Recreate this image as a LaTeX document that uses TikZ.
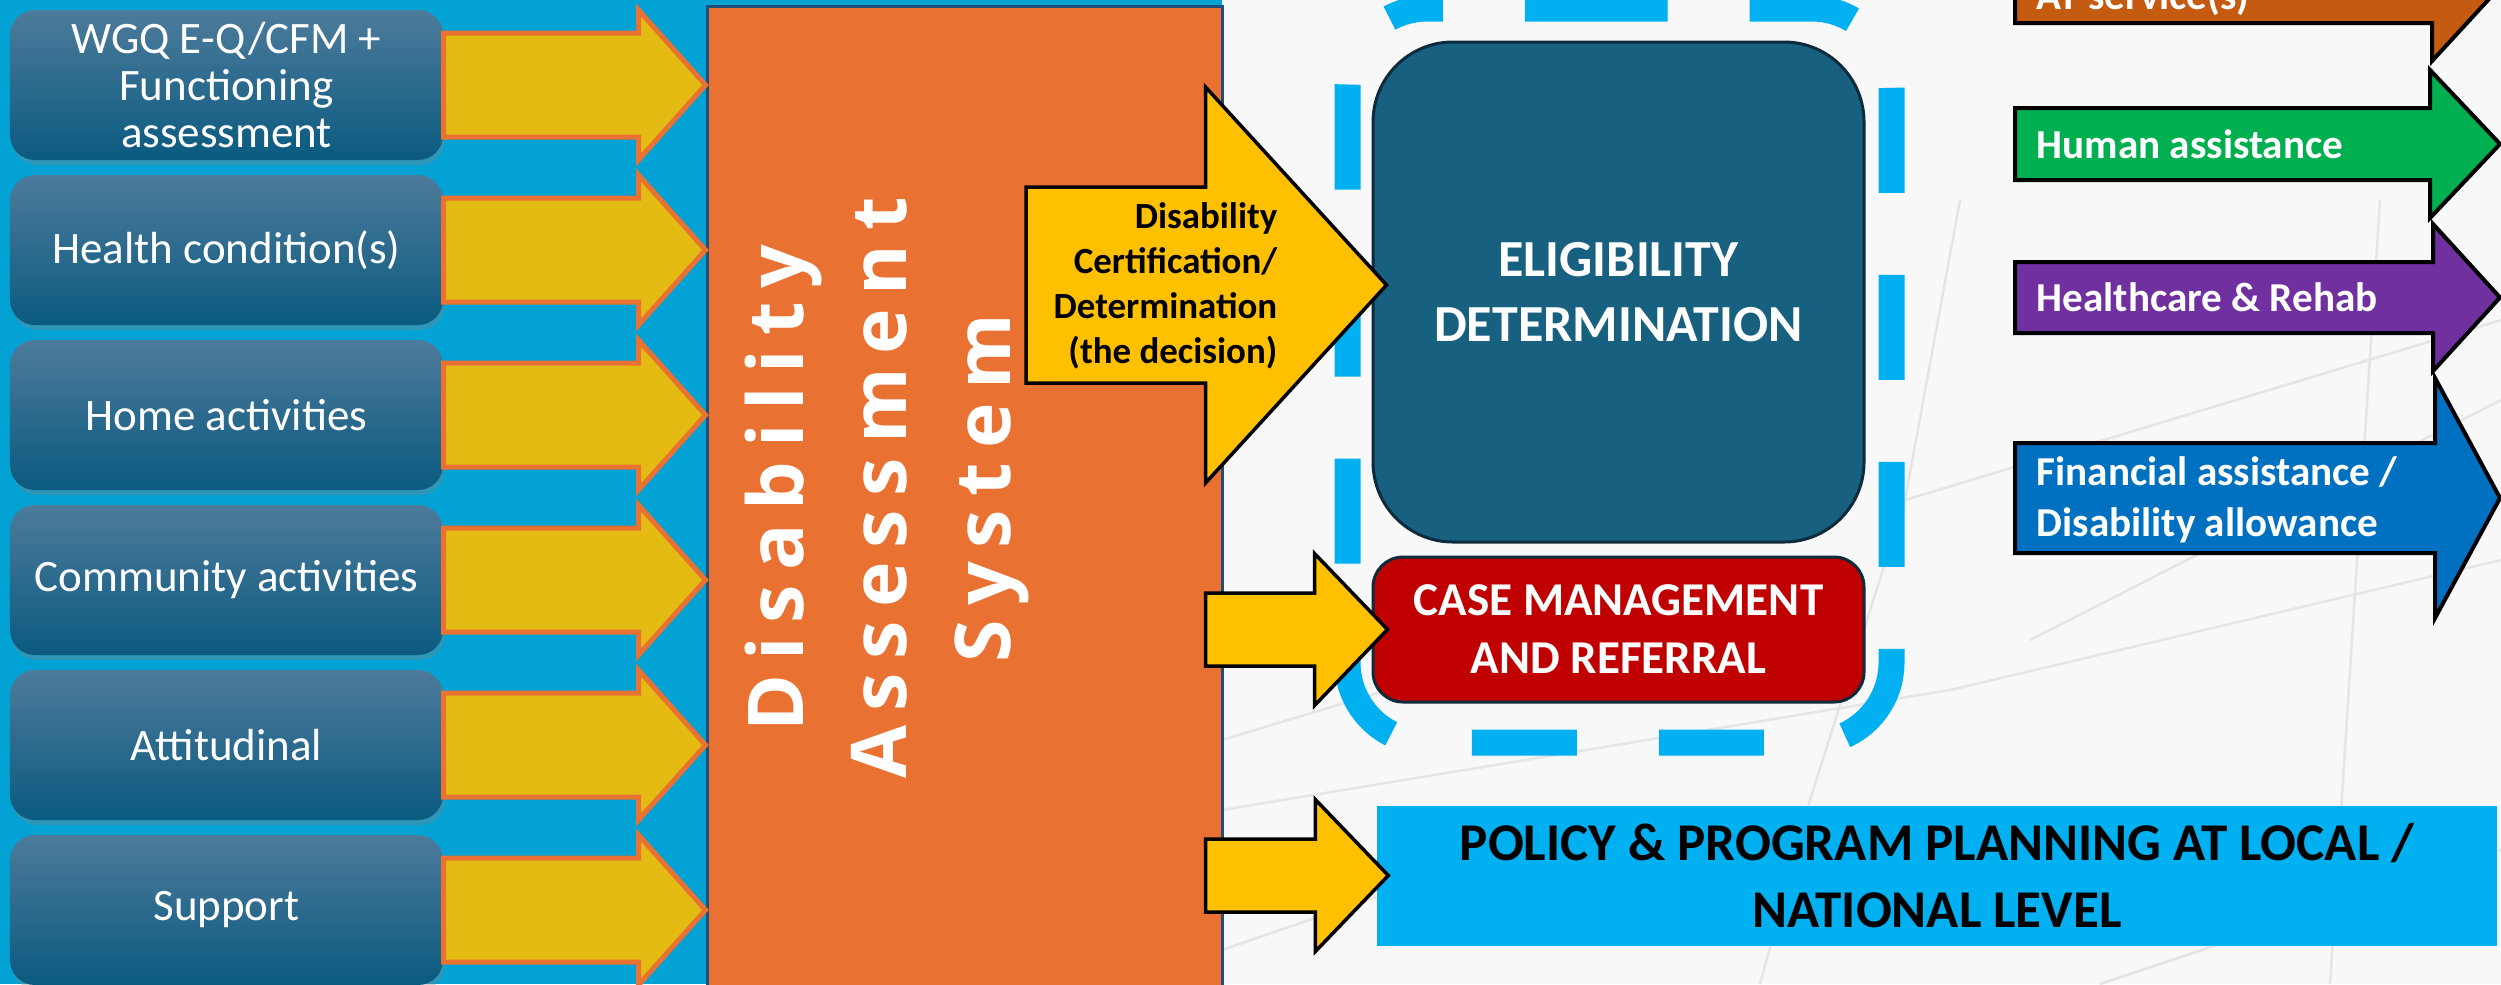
\documentclass[tikz,border=0pt]{standalone}
\usepackage{fontspec}
\setmainfont{Carlito}
\newfontfamily\sysfont[LetterSpace=18]{Open Sans}
\usepackage{tikz}
\usetikzlibrary{shapes,arrows,calc,shadows}

\definecolor{panelblue}{HTML}{03A2D4}
\definecolor{paper}{HTML}{F8F8F8}
\definecolor{boxtop}{HTML}{4D7B9B}
\definecolor{boxbot}{HTML}{0B5A80}
\definecolor{sysorange}{HTML}{E97132}
\definecolor{sysedge}{HTML}{1F4E79}
\definecolor{feedyellow}{HTML}{E4BB13}
\definecolor{gold}{HTML}{FFC000}
\definecolor{eligblue}{HTML}{17607F}
\definecolor{darkedge}{HTML}{0D2B3C}
\definecolor{casered}{HTML}{C00000}
\definecolor{skyblue}{HTML}{00B0F0}
\definecolor{atbrown}{HTML}{C55A11}
\definecolor{humgreen}{HTML}{00B050}
\definecolor{healpurple}{HTML}{7030A0}
\definecolor{finblue}{HTML}{0070C0}

\tikzstyle{inbox} = [rectangle, rounded corners=0.25cm, minimum width=4.33cm, minimum height=1.5cm, top color=boxtop, bottom color=boxbot, text=white, align=center, font=\fontsize{12.8}{13.4}\selectfont, drop shadow={shadow xshift=0.02cm, shadow yshift=-0.05cm, opacity=0.35}]
\tikzstyle{feed} = [fill=feedyellow, draw=sysorange, line width=0.05cm]
\tikzstyle{goldarrow} = [fill=gold, draw=black, line width=0.035cm]
\tikzstyle{outarrow} = [draw=black, line width=0.04cm]
\tikzstyle{outtext} = [anchor=west, inner sep=0pt, text=white, align=left, font=\bfseries\fontsize{11.7}{14.5}\selectfont]
\tikzstyle{systext} = [anchor=base, rotate=90, inner sep=0pt, text=white, font=\sysfont\bfseries\fontsize{21.9}{26}\selectfont]
\tikzstyle{dashbox} = [draw=skyblue, line width=0.26cm, dash pattern=on 1.05cm off 0.82cm, rounded corners=0.8cm]
\tikzstyle{faint} = [draw=black!10, line width=0.025cm]

% style, from, tip, shaft half, head half, head length
\newcommand{\blockarrow}[6]{%
  \path[#1] let \p1=(#2), \p2=(#3) in
    (\x1,\y1+#4) -- (\x2-#6,\y1+#4) -- (\x2-#6,\y1+#5) -- (\x2,\y1) --
    (\x2-#6,\y1-#5) -- (\x2-#6,\y1-#4) -- (\x1,\y1-#4) -- cycle;}

\begin{document}
\begin{tikzpicture}[x=1cm, y=-1cm]
        \useasboundingbox (0,0) rectangle (25.01,9.84);
        \clip (0,0) rectangle (25.01,9.84);
        \fill[paper] (0,0) rectangle (25.01,9.84);
        \draw[faint] (12.22,8.10) -- (19.50,6.90) -- (25.01,5.60);
        \draw[faint] (12.22,7.40) -- (14.70,6.65);
        \draw[faint] (17.60,9.84) -- (18.10,8.00) -- (19.05,5.00) -- (19.60,2.00);
        \draw[faint] (19.05,5.00) -- (25.01,3.20);
        \draw[faint] (23.80,2.00) -- (23.30,9.84);
        \draw[faint] (20.30,6.40) -- (25.01,4.00);
        \draw[faint] (21.00,9.84) -- (25.01,8.50);
        \draw[faint] (12.22,9.50) -- (16.00,8.20);
        \fill[panelblue] (0,0) rectangle (12.22,9.84);

        \node (sys) [rectangle, minimum width=5.15cm, minimum height=9.9cm, fill=sysorange, draw=sysedge, line width=0.03cm] at (9.645,5.01) {};
        \node (sysA) [systext] at (8.03,4.88) {Disability};
        \node (sysB) [systext] at (9.06,4.88) {Assessment};
        \node (sysC) [systext] at (10.10,4.88) {System};

        \node (in1) [inbox] at (2.265,0.85) {WGQ E-Q/CFM +\\Functioning\\assessment};
        \node (in2) [inbox] at (2.265,2.50) {Health condition(s)};
        \node (in3) [inbox] at (2.265,4.15) {Home activities};
        \node (in4) [inbox] at (2.265,5.80) {Community activities};
        \node (in5) [inbox] at (2.265,7.45) {Attitudinal};
        \node (in6) [inbox] at (2.265,9.10) {Support};

        \blockarrow{feed}{in1.east}{sys.west |- in1.east}{0.52cm}{0.75cm}{0.67cm}
        \blockarrow{feed}{in2.east}{sys.west |- in2.east}{0.52cm}{0.75cm}{0.67cm}
        \blockarrow{feed}{in3.east}{sys.west |- in3.east}{0.52cm}{0.75cm}{0.67cm}
        \blockarrow{feed}{in4.east}{sys.west |- in4.east}{0.52cm}{0.75cm}{0.67cm}
        \blockarrow{feed}{in5.east}{sys.west |- in5.east}{0.52cm}{0.75cm}{0.67cm}
        \blockarrow{feed}{in6.east}{sys.west |- in6.east}{0.52cm}{0.75cm}{0.67cm}

        \node (elig) [rectangle, rounded corners=0.8cm, minimum width=4.91cm, minimum height=5cm, fill=eligblue, draw=darkedge, line width=0.03cm, text=white, align=center, font=\bfseries\fontsize{14.8}{18.5}\selectfont] at (16.185,2.92) {ELIGIBILITY\\DETERMINATION};
        \node (case) [rectangle, rounded corners=0.3cm, minimum width=4.91cm, minimum height=1.45cm, fill=casered, draw=darkedge, line width=0.03cm, text=white, align=center, font=\bfseries\fontsize{13.4}{16.5}\selectfont] at (16.185,6.295) {CASE MANAGEMENT\\AND REFERRAL};
        \node (policy) [rectangle, minimum width=11.2cm, minimum height=1.4cm, fill=skyblue, text=black, align=center, font=\bfseries\fontsize{15.1}{19.1}\selectfont] at (19.37,8.755) {POLICY \& PROGRAM PLANNING AT LOCAL /\\NATIONAL LEVEL};

        \draw[dashbox] ($(elig.north west)+(1.11,-0.32)$) -- ($(elig.north east)+(0.26,-0.32)$) -- ($(case.south east)+(0.26,0.39)$) -- ($(case.south west)+(-0.24,0.39)$) -- ($(elig.north west)+(-0.24,-0.32)$) -- cycle;

        \coordinate (dstart) at (10.26,2.85);
        \blockarrow{goldarrow}{dstart}{$(elig.west |- dstart)+(0.15,0)$}{0.98cm}{1.98cm}{1.81cm}
        \node (dtext) [anchor=east, align=right, inner sep=0pt, font=\bfseries\fontsize{10.5}{12.8}\selectfont] at (12.78,2.86) {Disability\\Certification/\\Determination\\(the decision)};
        \blockarrow{goldarrow}{$(sys.east |- case.west)+(-0.18,0)$}{$(case.west)+(0.16,0)$}{0.365cm}{0.76cm}{0.73cm}
        \blockarrow{goldarrow}{$(sys.east |- policy.west)+(-0.18,0)$}{$(policy.west)+(0.12,0)$}{0.365cm}{0.76cm}{0.73cm}

        \coordinate (atS) at (20.15,-0.13);
        \coordinate (atT) at (25.00,-0.13);
        \blockarrow{outarrow, fill=atbrown}{atS}{atT}{0.36cm}{0.74cm}{0.68cm}
        \node (at) [outtext, anchor=base west] at (20.36,0.09) {AT service(s)};

        \coordinate (humS) at (20.15,1.44);
        \coordinate (humT) at (25.00,1.44);
        \blockarrow{outarrow, fill=humgreen}{humS}{humT}{0.36cm}{0.74cm}{0.70cm}
        \node (hum) [outtext] at (20.36,1.44) {Human assistance};

        \coordinate (healS) at (20.15,2.975);
        \coordinate (healT) at (25.00,2.975);
        \blockarrow{outarrow, fill=healpurple}{healS}{healT}{0.355cm}{0.735cm}{0.67cm}
        \node (heal) [outtext] at (20.36,2.975) {Healthcare \& Rehab};

        \coordinate (finS) at (20.15,4.98);
        \coordinate (finT) at (25.00,4.98);
        \blockarrow{outarrow, fill=finblue}{finS}{finT}{0.55cm}{1.20cm}{0.65cm}
        \node (fin) [outtext] at (20.36,5.00) {Financial assistance /\\Disability allowance};

\end{tikzpicture}
\end{document}
